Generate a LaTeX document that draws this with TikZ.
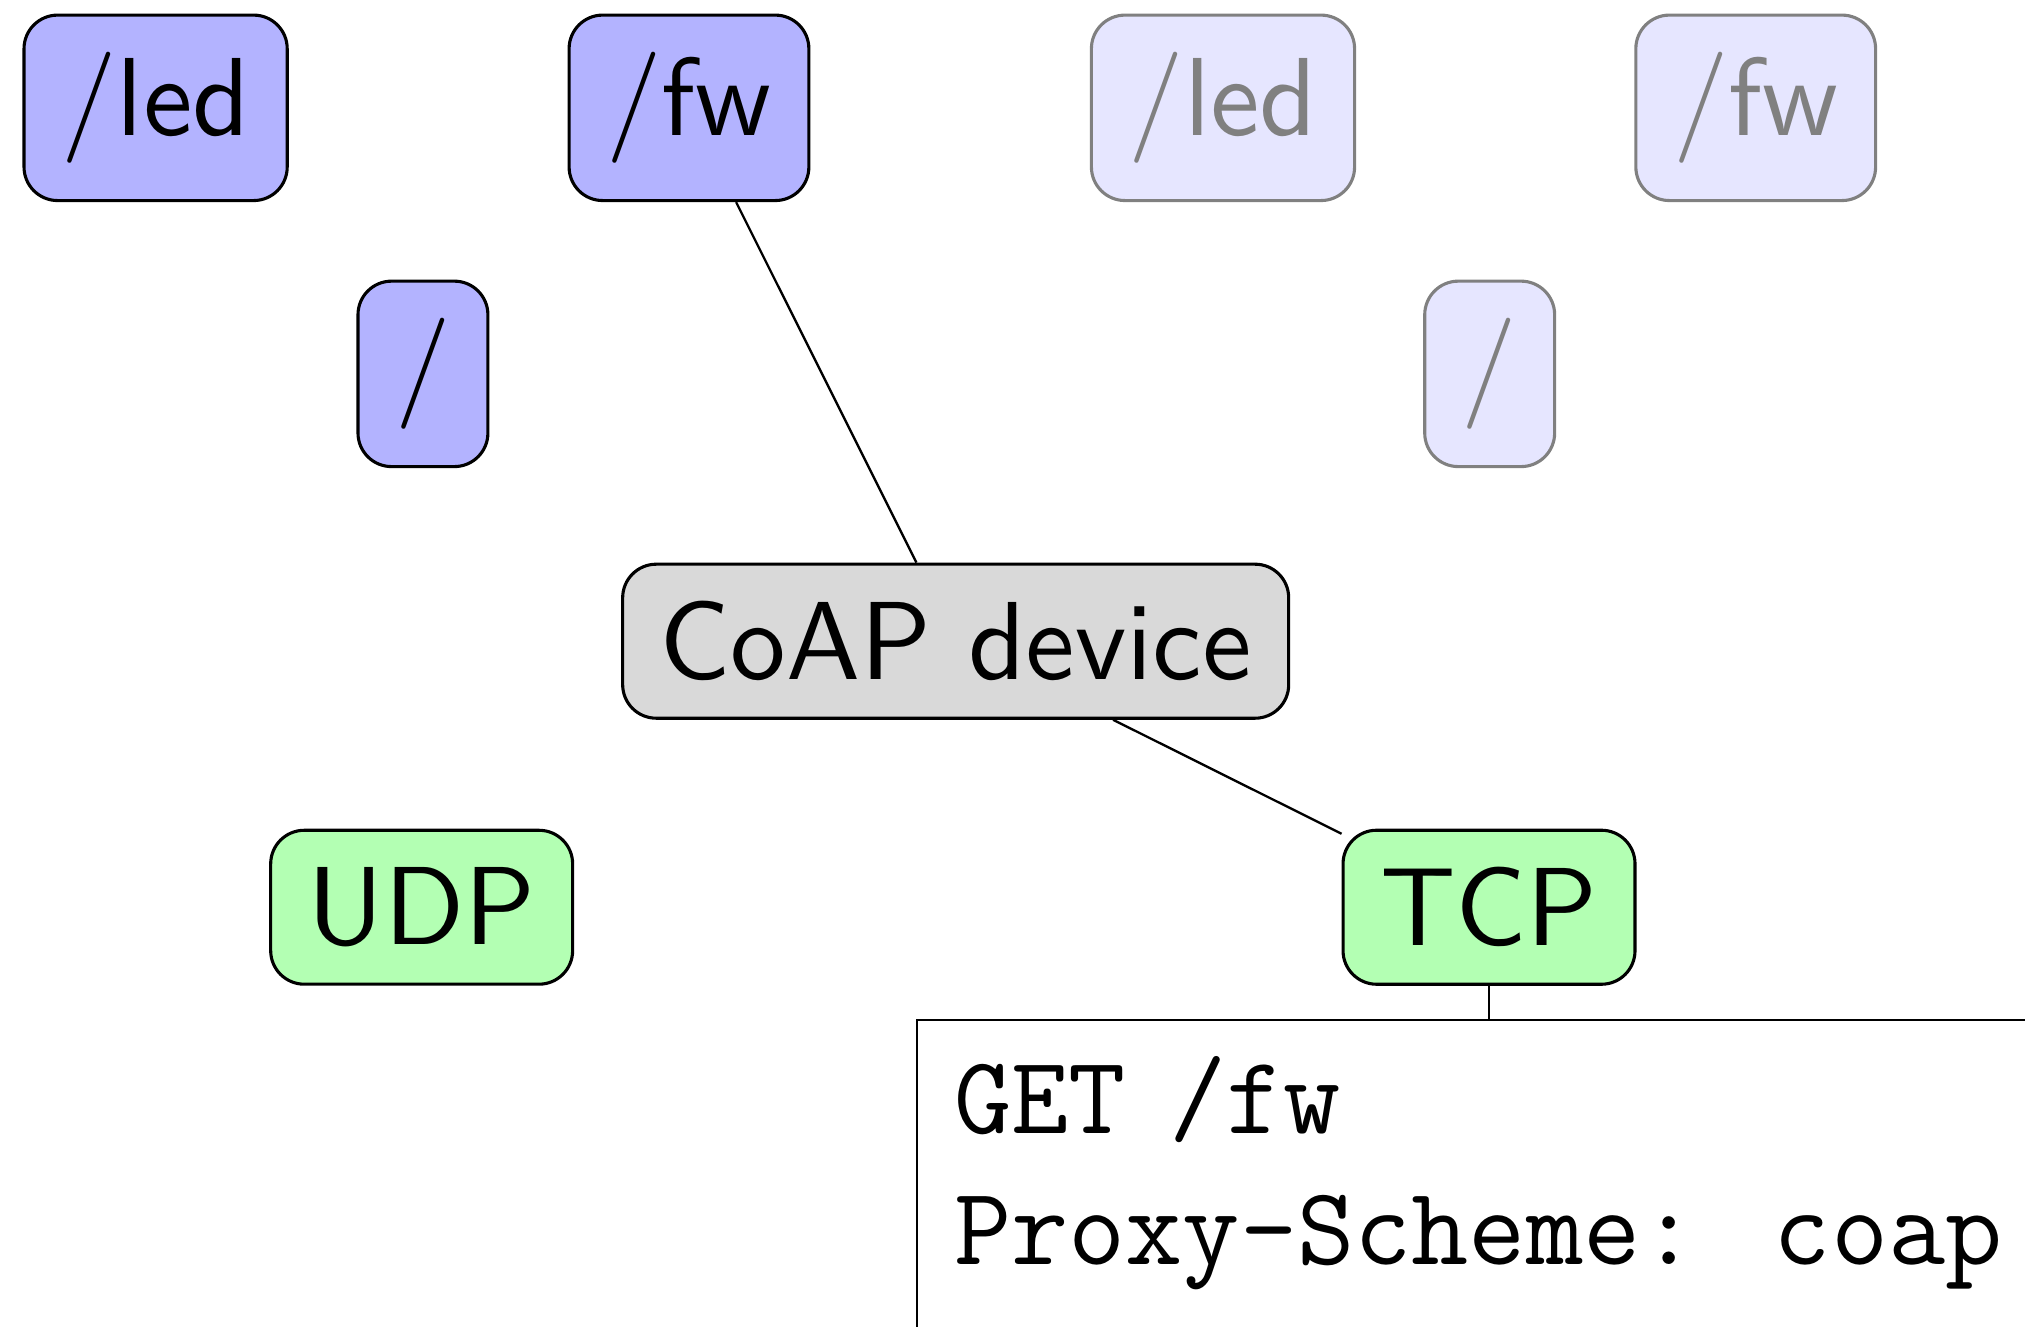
\documentclass[tikz,border=0pt]{standalone}
\usepackage{fontspec}
\usepackage{graphicx}
\definecolor{resblue}{HTML}{B3B3FF}
\definecolor{resfaint}{HTML}{E6E6FF}
\definecolor{devgray}{HTML}{D9D9D9}
\definecolor{protogreen}{HTML}{B3FFB3}
\definecolor{fadegray}{HTML}{808080}
\newcommand{\bigsans}[1]{\scalebox{2.15}{#1}}
\tikzset{
  basebox/.style={rounded corners=6.5pt, inner sep=7.2pt, line width=0.6pt,
    font=\sffamily\fontsize{10}{12}\selectfont},
  res/.style={basebox, draw=black, fill=resblue},
  faint/.style={basebox, draw=fadegray, fill=resfaint, text=fadegray},
  dev/.style={basebox, draw=black, fill=devgray},
  proto/.style={basebox, draw=black, fill=protogreen},
  link/.style={line width=0.45pt},
  reqbox/.style={draw, line width=0.45pt, fill=white, minimum width=221.5pt,
    minimum height=80pt, inner sep=0pt},
  reqtext/.style={font=\ttfamily\fontsize{21.5}{25}\selectfont, inner sep=0pt, anchor=base west},
}
\begin{document}
\begin{tikzpicture}[x=0.25pt, y=-0.25pt]
\useasboundingbox (0,0) rectangle (1568,1027);
\node[res] (led) at (120.5,83.5) {\bigsans{/led}};
\node[res] (fw) at (533.5,83.5) {\bigsans{/fw}};
\node[faint] (ledb) at (947,83.5) {\bigsans{/led}};
\node[faint] (fwb) at (1359.5,83.5) {\bigsans{/fw}};
\node[res] (root) at (327.5,289.5) {\bigsans{/}};
\node[faint] (rootb) at (1153.5,289.5) {\bigsans{/}};
\node[dev] (coap) at (740,496.5) {\bigsans{CoAP device}};
\node[proto] (udp) at (326.5,702.5) {\bigsans{UDP}};
\node[proto] (tcp) at (1153,702.5) {\bigsans{TCP}};
\node[reqbox, anchor=north] (req) at (1153,789) {};
\node[reqtext] (get) at (738,878) {\spaceskip=8.4pt GET /fw};
\node[reqtext] (proxy) at (738,979) {Proxy-Scheme: coap};
\draw[link] (fw) -- (coap);
\draw[link] (coap) -- (tcp);
\draw[link] (tcp) -- (req);
\end{tikzpicture}
\end{document}
